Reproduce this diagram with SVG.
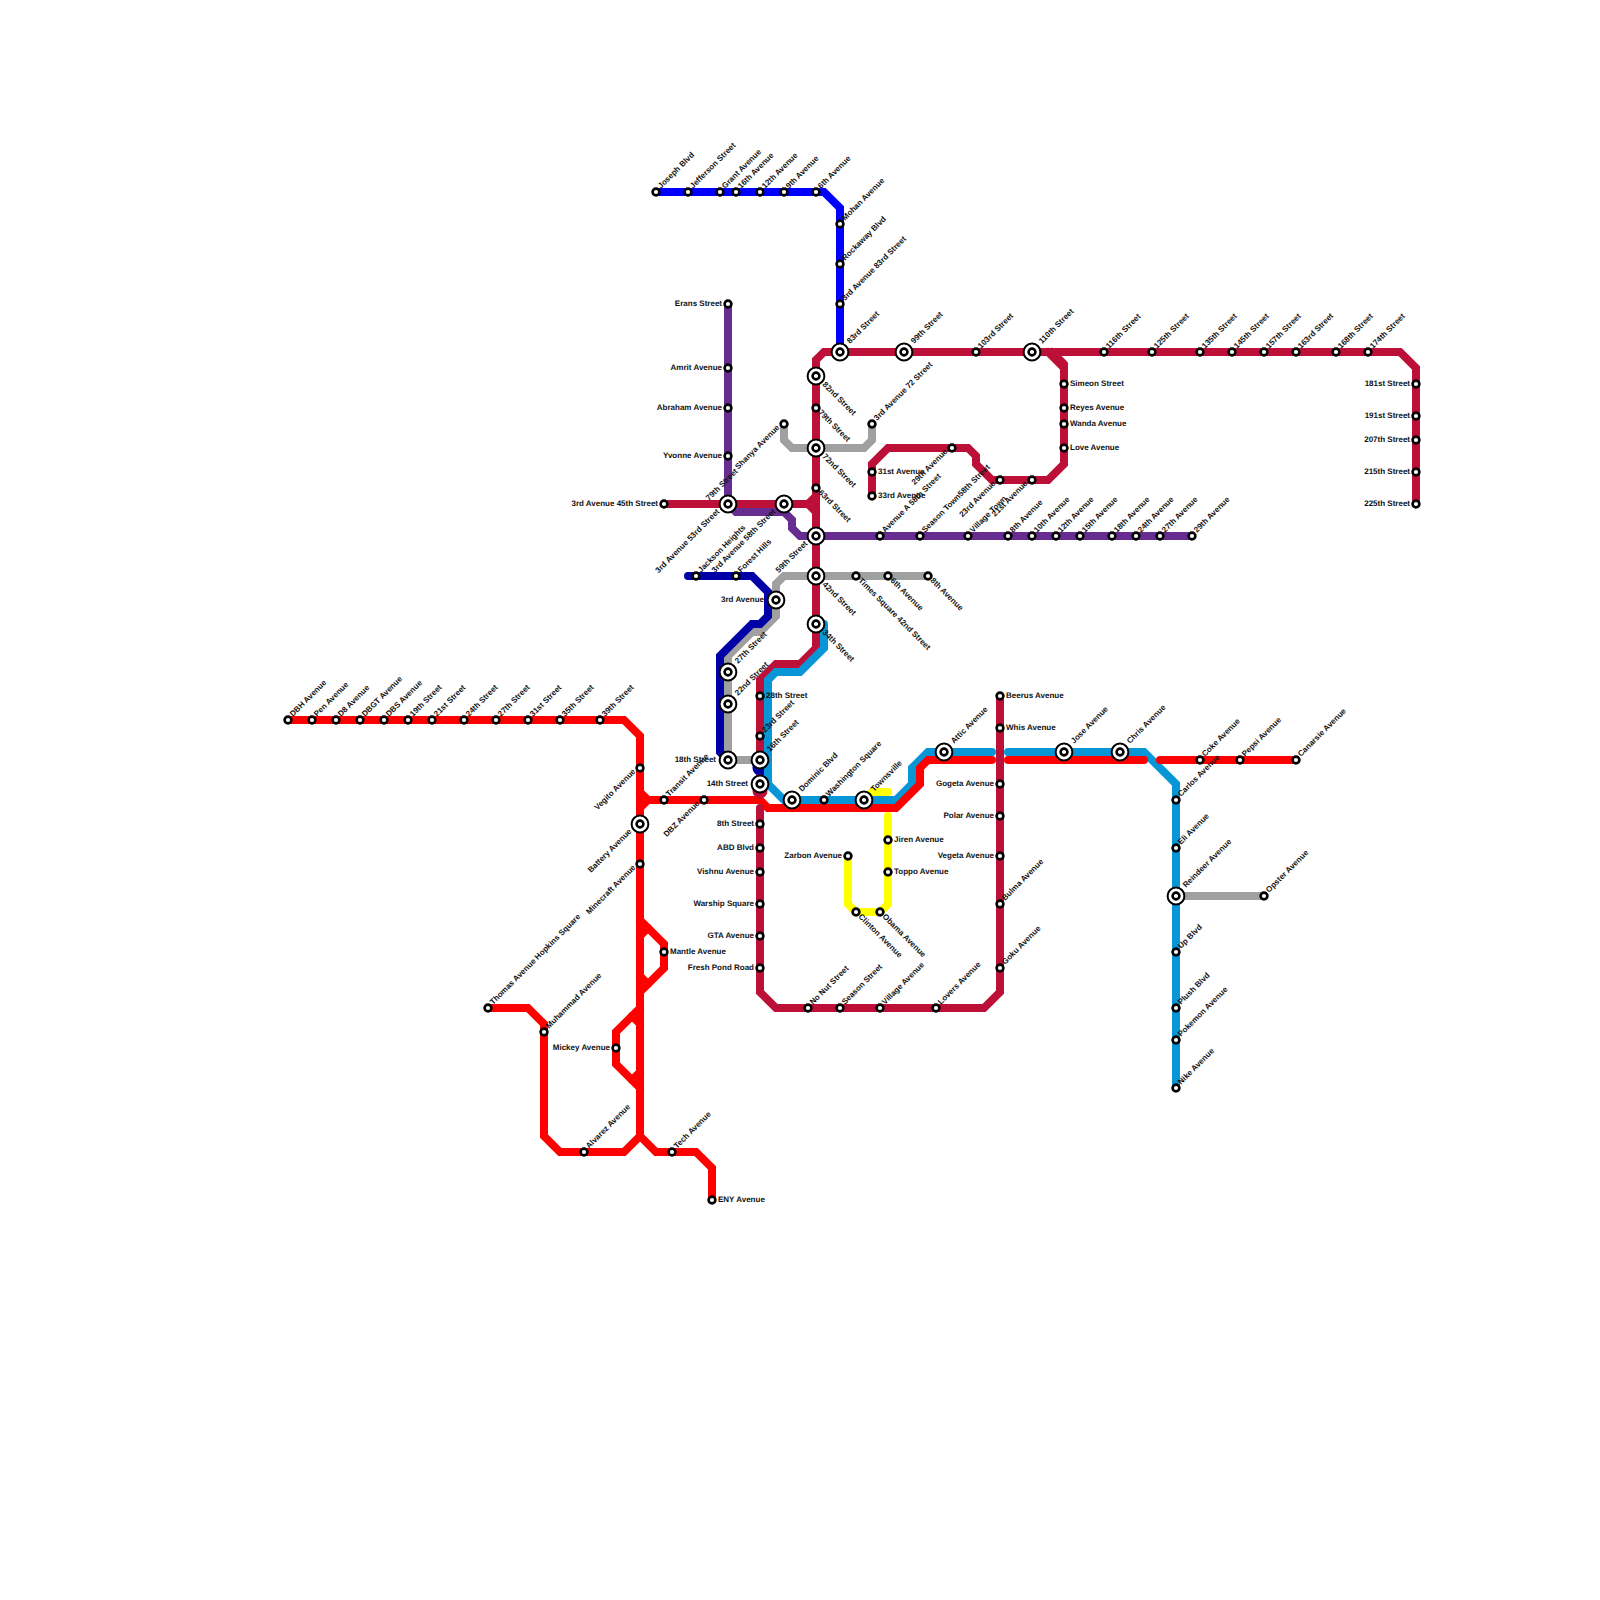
<svg xmlns="http://www.w3.org/2000/svg" width="1600" height="1600" viewBox="0 0 1600 1600">
<style>
.l{fill:none;stroke-width:8;stroke-linecap:round;stroke-linejoin:miter}
.w{fill:none;stroke-width:15;stroke-linecap:round}
.r{stroke:#ff0000}.c{stroke:#bd1038}.b{stroke:#0000ff}.n{stroke:#0000a6}.p{stroke:#662c90}.g{stroke:#a0a0a0}.s{stroke:#0896d7}.y{stroke:#ffff00}
.o{fill:#fff;stroke:#000;stroke-width:2.6}
.q{fill:#fff;stroke:#000;stroke-width:2}
text{font-family:"Liberation Sans",Arial,sans-serif;font-size:8px;font-weight:700;fill:#111;text-rendering:geometricPrecision}
.e{text-anchor:end}
</style>
<defs>
<g id="st"><circle class="o" r="3.4"/></g>
<g id="ix"><circle class="q" r="8.4"/><circle class="o" r="3.4"/></g>
</defs>
<rect width="1600" height="1600" fill="#fff"/>
<g id="connectors">
<path class="l y" d="M888 816V904L880 912H856L848 904V856"/>
<path class="l y" d="M864 800L872 792H888"/>
<path class="l g" d="M784 424V440L792 448H864L872 440V424"/>
<path class="l g" d="M928 576H784L776 584V616L760 632H752L728 656V760H760"/>
<path class="l g" d="M1176 896H1264"/>
<path class="l b" d="M656 192H824L840 208V352"/>
<path class="l n" d="M688 576H752L768 592V616L760 624H752L720 656V752L728 760"/>
<path class="l c" d="M664 504H808L816 496"/>
<path class="l c" d="M808 504L816 512"/>
<path class="l c" d="M1416 504V368L1400 352H824L816 360V648L800 664H776L760 680V784"/>
<path class="w n" d="M760 764V768"/>
<path class="l s" d="M824 624V648L800 672H776L768 680V784L784 800H896L912 784V768L928 752H992"/>
<path class="l s" d="M1008 752H1144L1176 784V1088"/>
<path class="l p" d="M728 304V504L736 512H784L792 520V528L800 536H1192"/>
<path class="l c" d="M816 528V544"/>
<path class="l c" d="M872 496V464L888 448H968L976 456V464L992 480H1048L1064 464V368L1048 352"/>
<path class="l c" d="M1052 352L1064 364"/>
<path class="l r" d="M288 720H624L640 736V1136L624 1152H560L544 1136V1024L528 1008H488"/>
<path class="l r" d="M640 1136L656 1152H696L712 1168V1200"/>
<path class="l r" d="M640 792L648 800H760L768 808H896L920 784V768L928 760H992"/>
<path class="l r" d="M640 808L648 800"/>
<path class="l r" d="M640 920L664 944V968L640 992"/>
<path class="l r" d="M640 936L648 928M640 976L648 984"/>
<path class="l r" d="M640 1008L616 1032V1064L640 1088"/>
<path class="l r" d="M632 1016L640 1024M640 1072L632 1080"/>
<path class="l r" d="M1008 760H1144"/>
<path class="l r" d="M1160 760H1296"/>
<path class="w c" d="M760 782V791"/>
<path class="l c" d="M760 808V992L776 1008H984L1000 992V696"/>
</g>
<g id="stations">
<use href="#st" x="656" y="192"/><text transform="translate(661 189) rotate(-45)">Joseph Blvd</text>
<use href="#st" x="688" y="192"/><text transform="translate(693 189) rotate(-45)">Jefferson Street</text>
<use href="#st" x="720" y="192"/><text transform="translate(725 189) rotate(-45)">Grant Avenue</text>
<use href="#st" x="736" y="192"/><text transform="translate(741 189) rotate(-45)">16th Avenue</text>
<use href="#st" x="760" y="192"/><text transform="translate(765 189) rotate(-45)">12th Avenue</text>
<use href="#st" x="784" y="192"/><text transform="translate(789 189) rotate(-45)">9th Avenue</text>
<use href="#st" x="816" y="192"/><text transform="translate(821 189) rotate(-45)">6th Avenue</text>
<use href="#st" x="840" y="224"/><text transform="translate(845 221) rotate(-45)">Mohan Avenue</text>
<use href="#st" x="840" y="264"/><text transform="translate(845 261) rotate(-45)">Rockaway Blvd</text>
<use href="#st" x="840" y="304"/><text transform="translate(845 301) rotate(-45)">3rd Avenue 83rd Street</text>
<use href="#ix" x="840" y="352"/><text transform="translate(850 344) rotate(-45)">83rd Street</text>
<use href="#ix" x="904" y="352"/><text transform="translate(914 344) rotate(-45)">99th Street</text>
<use href="#st" x="976" y="352"/><text transform="translate(981 349) rotate(-45)">103rd Street</text>
<use href="#ix" x="1032" y="352"/><text transform="translate(1042 344) rotate(-45)">110th Street</text>
<use href="#st" x="1104" y="352"/><text transform="translate(1109 349) rotate(-45)">116th Street</text>
<use href="#st" x="1152" y="352"/><text transform="translate(1157 349) rotate(-45)">125th Street</text>
<use href="#st" x="1200" y="352"/><text transform="translate(1205 349) rotate(-45)">135th Street</text>
<use href="#st" x="1232" y="352"/><text transform="translate(1237 349) rotate(-45)">145th Street</text>
<use href="#st" x="1264" y="352"/><text transform="translate(1269 349) rotate(-45)">157th Street</text>
<use href="#st" x="1296" y="352"/><text transform="translate(1301 349) rotate(-45)">163rd Street</text>
<use href="#st" x="1336" y="352"/><text transform="translate(1341 349) rotate(-45)">168th Street</text>
<use href="#st" x="1368" y="352"/><text transform="translate(1373 349) rotate(-45)">174th Street</text>
<use href="#st" x="1416" y="384"/><text class="e" x="1410" y="386">181st Street</text>
<use href="#st" x="1416" y="416"/><text class="e" x="1410" y="418">191st Street</text>
<use href="#st" x="1416" y="440"/><text class="e" x="1410" y="442">207th Street</text>
<use href="#st" x="1416" y="472"/><text class="e" x="1410" y="474">215th Street</text>
<use href="#st" x="1416" y="504"/><text class="e" x="1410" y="506">225th Street</text>
<use href="#st" x="1064" y="384"/><text x="1070" y="386">Simeon Street</text>
<use href="#st" x="1064" y="408"/><text x="1070" y="410">Reyes Avenue</text>
<use href="#st" x="1064" y="424"/><text x="1070" y="426">Wanda Avenue</text>
<use href="#st" x="1064" y="448"/><text x="1070" y="450">Love Avenue</text>
<use href="#st" x="1032" y="480"/><text class="e" transform="translate(1028 484) rotate(-45)">21st Avenue</text>
<use href="#st" x="1000" y="480"/><text class="e" transform="translate(996 484) rotate(-45)">23rd Avenue</text>
<use href="#st" x="952" y="448"/><text class="e" transform="translate(948 452) rotate(-45)">29th Avenue</text>
<use href="#st" x="872" y="472"/><text x="878" y="474">31st Avenue</text>
<use href="#st" x="872" y="496"/><text x="878" y="498">33rd Avenue</text>
<use href="#st" x="728" y="304"/><text class="e" x="722" y="306">Erans Street</text>
<use href="#st" x="728" y="368"/><text class="e" x="722" y="370">Amrit Avenue</text>
<use href="#st" x="728" y="408"/><text class="e" x="722" y="410">Abraham Avenue</text>
<use href="#st" x="728" y="456"/><text class="e" x="722" y="458">Yvonne Avenue</text>
<use href="#st" x="664" y="504"/><text class="e" x="658" y="506">3rd Avenue 45th Street</text>
<use href="#ix" x="728" y="504"/><text class="e" transform="translate(720 512) rotate(-45)">3rd Avenue 53rd Street</text><text transform="translate(709 501) rotate(-45)">79th Street</text>
<use href="#ix" x="784" y="504"/><text class="e" transform="translate(776 512) rotate(-45)">3rd Avenue 58th Street</text>
<use href="#st" x="784" y="424"/><text class="e" transform="translate(780 428) rotate(-45)">Shanya Avenue</text>
<use href="#st" x="872" y="424"/><text transform="translate(877 421) rotate(-45)">3rd Avenue 72 Street</text>
<use href="#ix" x="816" y="376"/><text transform="translate(822 385) rotate(45)">82nd Street</text>
<use href="#st" x="816" y="408"/><text transform="translate(818 413) rotate(45)">79th Street</text>
<use href="#ix" x="816" y="448"/><text transform="translate(822 457) rotate(45)">72nd Street</text>
<use href="#st" x="816" y="488"/><text transform="translate(818 493) rotate(45)">63rd Street</text>
<use href="#ix" x="816" y="536"/><text class="e" transform="translate(808 544) rotate(-45)">59th Street</text>
<use href="#ix" x="816" y="576"/><text transform="translate(822 585) rotate(45)">42nd Street</text>
<use href="#ix" x="816" y="624"/><text transform="translate(822 633) rotate(45)">34th Street</text>
<use href="#st" x="856" y="576"/><text transform="translate(858 581) rotate(45)">Times Square 42nd Street</text>
<use href="#st" x="888" y="576"/><text transform="translate(890 581) rotate(45)">6th Avenue</text>
<use href="#st" x="928" y="576"/><text transform="translate(930 581) rotate(45)">8th Avenue</text>
<use href="#st" x="880" y="536"/><text transform="translate(885 533) rotate(-45)">Avenue A 58th Street</text>
<use href="#st" x="920" y="536"/><text transform="translate(925 533) rotate(-45)">Season Town58th Street</text>
<use href="#st" x="968" y="536"/><text transform="translate(973 533) rotate(-45)">Village Town</text>
<use href="#st" x="1008" y="536"/><text transform="translate(1013 533) rotate(-45)">8th Avenue</text>
<use href="#st" x="1032" y="536"/><text transform="translate(1037 533) rotate(-45)">10th Avenue</text>
<use href="#st" x="1056" y="536"/><text transform="translate(1061 533) rotate(-45)">12th Avenue</text>
<use href="#st" x="1080" y="536"/><text transform="translate(1085 533) rotate(-45)">15th Avenue</text>
<use href="#st" x="1112" y="536"/><text transform="translate(1117 533) rotate(-45)">18th Avenue</text>
<use href="#st" x="1136" y="536"/><text transform="translate(1141 533) rotate(-45)">24th Avenue</text>
<use href="#st" x="1160" y="536"/><text transform="translate(1165 533) rotate(-45)">27th Avenue</text>
<use href="#st" x="1192" y="536"/><text transform="translate(1197 533) rotate(-45)">29th Avenue</text>
<use href="#st" x="696" y="576"/><text transform="translate(701 573) rotate(-45)">Jackson Heights</text>
<use href="#st" x="736" y="576"/><text transform="translate(741 573) rotate(-45)">Forest Hills</text>
<use href="#ix" x="776" y="600"/><text class="e" x="764" y="602">3rd Avenue</text>
<use href="#ix" x="728" y="672"/><text transform="translate(738 664) rotate(-45)">27th Street</text>
<use href="#ix" x="728" y="704"/><text transform="translate(738 696) rotate(-45)">22nd Street</text>
<use href="#ix" x="728" y="760"/><text class="e" x="716" y="762">18th Street</text>
<use href="#st" x="760" y="696"/><text x="766" y="698">28th Street</text>
<use href="#st" x="760" y="736"/><text transform="translate(765 733) rotate(-45)">23rd Street</text>
<use href="#ix" x="760" y="760"/><text transform="translate(770 752) rotate(-45)">16th Street</text>
<use href="#ix" x="760" y="784"/><text class="e" x="748" y="786">14th Street</text>
<use href="#ix" x="792" y="800"/><text transform="translate(802 792) rotate(-45)">Dominic Blvd</text>
<use href="#st" x="824" y="800"/><text transform="translate(829 797) rotate(-45)">Washington Square</text>
<use href="#ix" x="864" y="800"/><text transform="translate(874 792) rotate(-45)">Townsville</text>
<use href="#ix" x="944" y="752"/><text transform="translate(954 744) rotate(-45)">Attic Avenue</text>
<use href="#ix" x="1064" y="752"/><text transform="translate(1074 744) rotate(-45)">Jose Avenue</text>
<use href="#ix" x="1120" y="752"/><text transform="translate(1130 744) rotate(-45)">Chris Avenue</text>
<use href="#st" x="1200" y="760"/><text transform="translate(1205 757) rotate(-45)">Coke Avenue</text>
<use href="#st" x="1240" y="760"/><text transform="translate(1245 757) rotate(-45)">Pepsi Avenue</text>
<use href="#st" x="1296" y="760"/><text transform="translate(1301 757) rotate(-45)">Canarsie Avenue</text>
<use href="#st" x="1176" y="800"/><text transform="translate(1181 797) rotate(-45)">Carlos Avenue</text>
<use href="#st" x="1176" y="848"/><text transform="translate(1181 845) rotate(-45)">Eli Avenue</text>
<use href="#ix" x="1176" y="896"/><text transform="translate(1186 888) rotate(-45)">Reindeer Avenue</text>
<use href="#st" x="1264" y="896"/><text transform="translate(1269 893) rotate(-45)">Opster Avenue</text>
<use href="#st" x="1176" y="952"/><text transform="translate(1181 949) rotate(-45)">Up Blvd</text>
<use href="#st" x="1176" y="1008"/><text transform="translate(1181 1005) rotate(-45)">Plush Blvd</text>
<use href="#st" x="1176" y="1040"/><text transform="translate(1181 1037) rotate(-45)">Pokemon Avenue</text>
<use href="#st" x="1176" y="1088"/><text transform="translate(1181 1085) rotate(-45)">Nike Avenue</text>
<use href="#st" x="1000" y="696"/><text x="1006" y="698">Beerus Avenue</text>
<use href="#st" x="1000" y="728"/><text x="1006" y="730">Whis Avenue</text>
<use href="#st" x="1000" y="784"/><text class="e" x="994" y="786">Gogeta Avenue</text>
<use href="#st" x="1000" y="816"/><text class="e" x="994" y="818">Polar Avenue</text>
<use href="#st" x="1000" y="856"/><text class="e" x="994" y="858">Vegeta Avenue</text>
<use href="#st" x="1000" y="904"/><text transform="translate(1005 901) rotate(-45)">Bulma Avenue</text>
<use href="#st" x="1000" y="968"/><text transform="translate(1005 965) rotate(-45)">Goku Avenue</text>
<use href="#st" x="936" y="1008"/><text transform="translate(941 1005) rotate(-45)">Lovers Avenue</text>
<use href="#st" x="880" y="1008"/><text transform="translate(885 1005) rotate(-45)">Village Avenue</text>
<use href="#st" x="840" y="1008"/><text transform="translate(845 1005) rotate(-45)">Season Street</text>
<use href="#st" x="808" y="1008"/><text transform="translate(813 1005) rotate(-45)">No Nut Street</text>
<use href="#st" x="760" y="824"/><text class="e" x="754" y="826">8th Street</text>
<use href="#st" x="760" y="848"/><text class="e" x="754" y="850">ABD Blvd</text>
<use href="#st" x="760" y="872"/><text class="e" x="754" y="874">Vishnu Avenue</text>
<use href="#st" x="760" y="904"/><text class="e" x="754" y="906">Warship Square</text>
<use href="#st" x="760" y="936"/><text class="e" x="754" y="938">GTA Avenue</text>
<use href="#st" x="760" y="968"/><text class="e" x="754" y="970">Fresh Pond Road</text>
<use href="#st" x="848" y="856"/><text class="e" x="842" y="858">Zarbon Avenue</text>
<use href="#st" x="888" y="840"/><text x="894" y="842">Jiren Avenue</text>
<use href="#st" x="888" y="872"/><text x="894" y="874">Toppo Avenue</text>
<use href="#st" x="856" y="912"/><text transform="translate(858 917) rotate(45)">Clinton Avenue</text>
<use href="#st" x="880" y="912"/><text transform="translate(882 917) rotate(45)">Obama Avenue</text>
<use href="#st" x="288" y="720"/><text transform="translate(293 717) rotate(-45)">DBH Avenue</text>
<use href="#st" x="312" y="720"/><text transform="translate(317 717) rotate(-45)">Pen Avenue</text>
<use href="#st" x="336" y="720"/><text transform="translate(341 717) rotate(-45)">D8 Avenue</text>
<use href="#st" x="360" y="720"/><text transform="translate(365 717) rotate(-45)">DBGT Avenue</text>
<use href="#st" x="384" y="720"/><text transform="translate(389 717) rotate(-45)">DBS Avenue</text>
<use href="#st" x="408" y="720"/><text transform="translate(413 717) rotate(-45)">19th Street</text>
<use href="#st" x="432" y="720"/><text transform="translate(437 717) rotate(-45)">21st Street</text>
<use href="#st" x="464" y="720"/><text transform="translate(469 717) rotate(-45)">24th Street</text>
<use href="#st" x="496" y="720"/><text transform="translate(501 717) rotate(-45)">27th Street</text>
<use href="#st" x="528" y="720"/><text transform="translate(533 717) rotate(-45)">31st Street</text>
<use href="#st" x="560" y="720"/><text transform="translate(565 717) rotate(-45)">35th Street</text>
<use href="#st" x="600" y="720"/><text transform="translate(605 717) rotate(-45)">39th Street</text>
<use href="#st" x="640" y="768"/><text class="e" transform="translate(636 772) rotate(-45)">Vegito Avenue</text>
<use href="#ix" x="640" y="824"/><text class="e" transform="translate(632 832) rotate(-45)">Battery Avenue</text>
<use href="#st" x="640" y="864"/><text class="e" transform="translate(636 868) rotate(-45)">Minecraft Avenue</text>
<use href="#st" x="664" y="800"/><text transform="translate(669 797) rotate(-45)">Transit Avenue</text>
<use href="#st" x="704" y="800"/><text class="e" transform="translate(700 804) rotate(-45)">DBZ Avenue</text>
<use href="#st" x="664" y="952"/><text x="670" y="954">Mantle Avenue</text>
<use href="#st" x="616" y="1048"/><text class="e" x="610" y="1050">Mickey Avenue</text>
<use href="#st" x="488" y="1008"/><text transform="translate(493 1005) rotate(-45)">Thomas Avenue Hopkins Square</text>
<use href="#st" x="544" y="1032"/><text transform="translate(549 1029) rotate(-45)">Muhammad Avenue</text>
<use href="#st" x="584" y="1152"/><text transform="translate(589 1149) rotate(-45)">Alvarez Avenue</text>
<use href="#st" x="672" y="1152"/><text transform="translate(677 1149) rotate(-45)">Tech Avenue</text>
<use href="#st" x="712" y="1200"/><text x="718" y="1202">ENY Avenue</text>
</g>
</svg>
